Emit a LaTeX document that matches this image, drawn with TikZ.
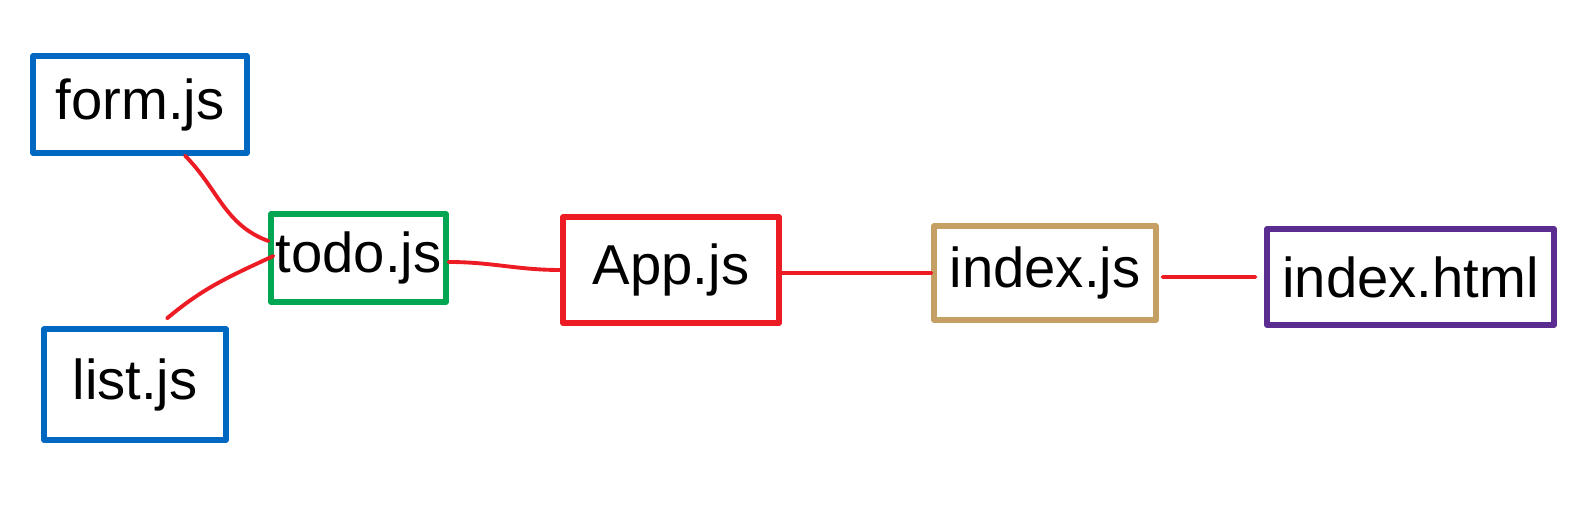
\documentclass[tikz,border=0pt]{standalone}
\usepackage{fontspec}
\setmainfont{Liberation Sans}
\usetikzlibrary{positioning, calc}
\usepackage{xcolor}
\definecolor{fileblue}{RGB}{0,104,192}
\definecolor{filegreen}{RGB}{0,166,81}
\definecolor{filered}{RGB}{237,28,36}
\definecolor{filetan}{RGB}{196,160,100}
\definecolor{filepurple}{RGB}{92,45,145}
\tikzset{
    filebox/.style = {rectangle, draw, line width=3pt, line join=round, line cap=round, inner sep=0pt, align=center, font=\fontsize{32}{38}\selectfont},
    link/.style = {filered, line width=2.2pt, line cap=round}
}
\begin{document}
\begin{tikzpicture}[x=0.02cm, y=-0.02cm]
\useasboundingbox (0,0) rectangle (1596,519);
\node[filebox, draw=fileblue, minimum width=4.28cm, minimum height=1.94cm] (form) at (140,104.5) {form.js};
\node[filebox, draw=filegreen, minimum width=3.5cm, minimum height=1.76cm] (todo) at (358.5,258) {todo.js};
\node[filebox, draw=fileblue, minimum width=3.64cm, minimum height=2.22cm] (list) at (135,384.5) {list.js};
\node[filebox, draw=filered, minimum width=4.32cm, minimum height=2.12cm] (app) at (671,270) {App.js};
\node[filebox, draw=filetan, minimum width=4.44cm, minimum height=1.88cm] (indexjs) at (1045,273) {index.js};
\node[filebox, draw=filepurple, minimum width=5.74cm, minimum height=1.92cm] (indexhtml) at (1410.5,277) {index.html};

\draw[link] ([xshift=0.9cm]form.south) to[out=-45, in=160] ([yshift=0.34cm]todo.west);
\draw[link] ([xshift=0.64cm, yshift=0.16cm]list.north) to[out=40, in=205] ([xshift=0.1cm, yshift=0.04cm]todo.west);
\draw[link] ([yshift=-0.08cm]todo.east) to[out=0, in=180] (app.west);
\draw[link] ([yshift=-0.06cm]app.east) to[out=0, in=180] (indexjs.west);
\draw[link, shorten <=0.08cm, shorten >=0.18cm] ([yshift=-0.08cm]indexjs.east) -- (indexhtml.west);
\end{tikzpicture}
\end{document}
